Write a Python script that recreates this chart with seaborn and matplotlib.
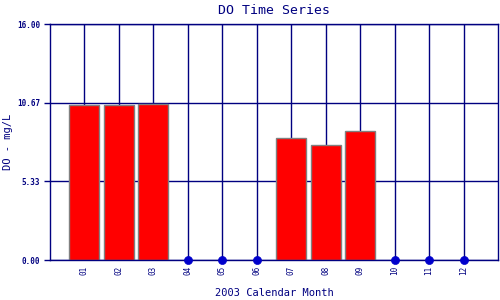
import numpy as np
import pandas as pd
import matplotlib
matplotlib.use("Agg")
import matplotlib.pyplot as plt
import seaborn as sns

months = [1, 2, 3, 4, 5, 6, 7, 8, 9, 10, 11, 12]
month_labels = ["01", "02", "03", "04", "05", "06", "07", "08", "09", "10", "11", "12"]
do_values = [10.52, 10.52, 10.58, np.nan, np.nan, np.nan, 8.25, 7.77, 8.72, np.nan, np.nan, np.nan]
y_ticks = [0.0, 5.33, 10.67, 16.0]

navy = "#000080"
sns.set_theme(style="white")
plt.rcParams['font.family'] = ['DejaVu Sans Mono']

df = pd.DataFrame({"month": months, "do": do_values})
have = df.dropna()
missing = df[df["do"].isna()].assign(zero=0.0)

fig = plt.figure(figsize=(5, 3), dpi=100)
ax = fig.add_axes([0.1, 0.1333, 0.896, 0.7867])

for y in y_ticks:
    ax.axhline(y, color=navy, lw=1, zorder=0.5)
for m in months:
    ax.axvline(m, color=navy, lw=1, zorder=0.5)

sns.barplot(data=have, x="month", y="do", native_scale=True, width=0.87,
            color="#ff0000", saturation=1, edgecolor="#808080", linewidth=1,
            ax=ax, zorder=2)
sns.scatterplot(data=missing, x="month", y="zero", color="#0000cc", s=34,
                edgecolor="#0000cc", ax=ax, zorder=3, clip_on=False)

ax.set_xlim(0, 13)
ax.set_ylim(0, 16)
ax.set_xticks(months)
ax.set_xticklabels(month_labels, rotation=90, fontsize=5.5, color=navy)
ax.set_yticks(y_ticks)
ax.set_yticklabels([f"{v:.2f}" for v in y_ticks], fontsize=5.5, color=navy, fontweight="bold")
ax.tick_params(axis="y", length=4, color=navy, width=1, pad=3, left=True)
ax.tick_params(axis="x", length=0, pad=4)
for s in ax.spines.values():
    s.set_color(navy)
    s.set_linewidth(1)

ax.set_title("DO Time Series", fontsize=9.5, color=navy, pad=7)
ax.set_xlabel("2003 Calendar Month", fontsize=7.5, color=navy, va="center")
ax.xaxis.set_label_coords(0.5, -0.14)
ax.set_ylabel("DO - mg/L", fontsize=7.5, color=navy, va="center")
ax.yaxis.set_label_coords(-0.094, 0.5)

fig.savefig("out.png", dpi=100)
